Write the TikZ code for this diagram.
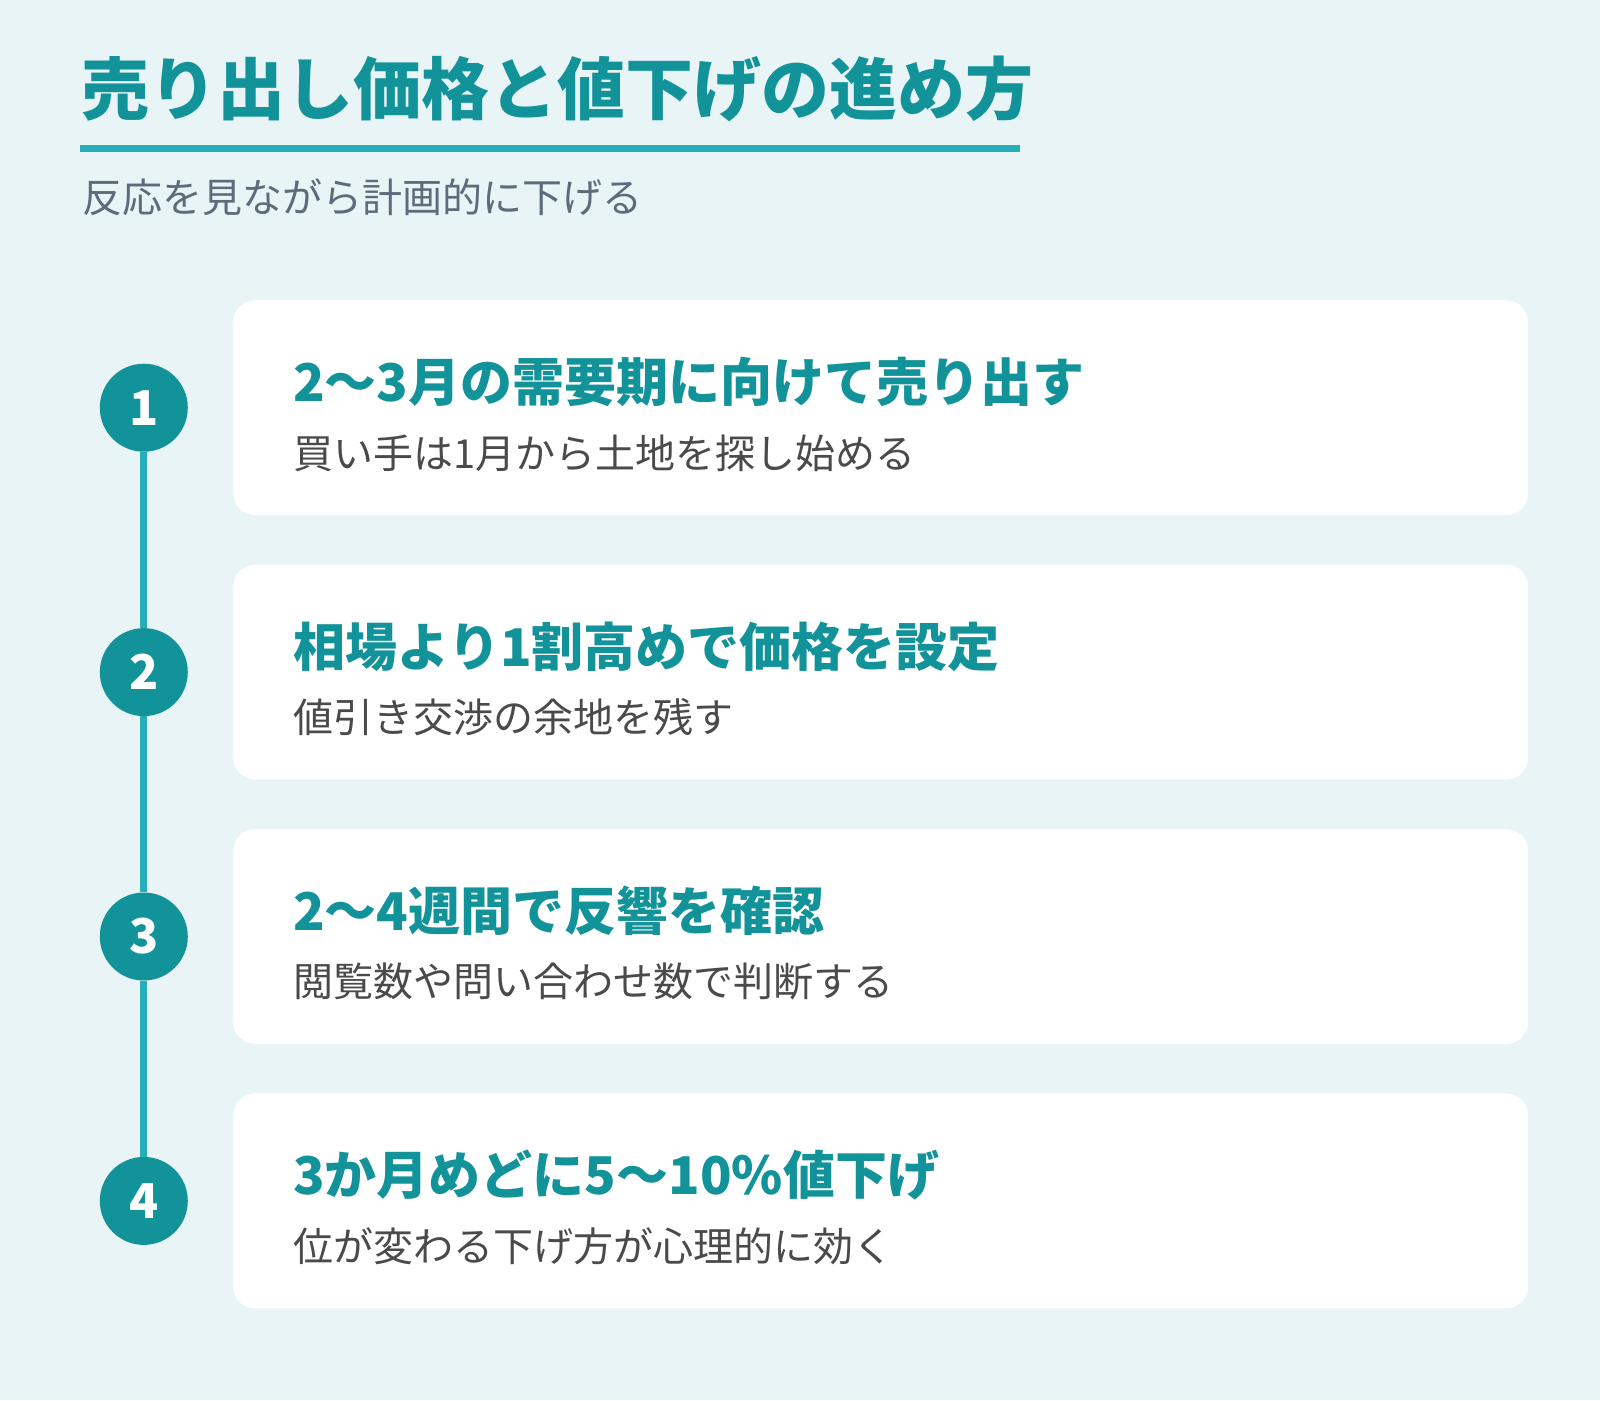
\documentclass[tikz,border=0pt]{standalone}
\usepackage{fontspec}
\setmainfont{Noto Sans CJK JP}
\usetikzlibrary{positioning}

\definecolor{pagebg}{HTML}{E9F4F6}
\definecolor{teal}{HTML}{12939A}
\definecolor{lineteal}{HTML}{27AFB9}
\definecolor{subgray}{HTML}{5D6B7B}
\definecolor{textgray}{HTML}{4A4A4A}

\begin{document}
\begin{tikzpicture}[
  x=1pt, y=-1pt,
  card/.style={rectangle, rounded corners=22pt, fill=white,
               minimum width=1295pt, minimum height=215pt,
               inner sep=0pt},
  num/.style={circle, fill=teal, minimum size=88pt, inner sep=0pt,
              text=white, font=\fontsize{48}{56}\selectfont\bfseries},
  head/.style={anchor=west, inner sep=0pt, text=teal,
               font=\fontsize{52}{62}\selectfont\bfseries},
  sub/.style={anchor=west, inner sep=0pt, text=textgray,
              font=\fontsize{40}{48}\selectfont},
  spine/.style={draw=lineteal, line width=7pt},
  node distance=49pt
]
\fill[pagebg] (0,0) rectangle (1600,1400);
\useasboundingbox (0,0) rectangle (1600,1400);

% title
\node[anchor=west, inner sep=0pt, text=teal,
      font=\fontsize{68}{80}\selectfont\bfseries] (title) at (81,89)
      {売り出し価格と値下げの進め方};
\coordinate (ulA) at (80,148);
\coordinate (ulB) at (1020,148);
\draw[draw=lineteal, line width=7pt] (ulA) -- (ulB);
\node[anchor=west, inner sep=0pt, text=subgray,
      font=\fontsize{40}{48}\selectfont] (subtitle) at (82,197)
      {反応を見ながら計画的に下げる};

% cards
\node[card, anchor=north west] (card1) at (233,300) {};
\node[card, below=of card1] (card2) {};
\node[card, below=of card2] (card3) {};
\node[card, below=of card3] (card4) {};

% step numbers
\node[num, left=45pt of card1] (n1) {1};
\node[num, left=45pt of card2] (n2) {2};
\node[num, left=45pt of card3] (n3) {3};
\node[num, left=45pt of card4] (n4) {4};
\draw[spine] (n1) -- (n2);
\draw[spine] (n2) -- (n3);
\draw[spine] (n3) -- (n4);

% card texts
\node[head] (h1) at ([xshift=60pt, yshift=-82pt]card1.north west) {2〜3月の需要期に向けて売り出す};
\node[sub]  (s1) at ([xshift=60pt, yshift=-153pt]card1.north west) {買い手は1月から土地を探し始める};
\node[head] (h2) at ([xshift=60pt, yshift=-82pt]card2.north west) {相場より1割高めで価格を設定};
\node[sub]  (s2) at ([xshift=60pt, yshift=-153pt]card2.north west) {値引き交渉の余地を残す};
\node[head] (h3) at ([xshift=60pt, yshift=-82pt]card3.north west) {2〜4週間で反響を確認};
\node[sub]  (s3) at ([xshift=60pt, yshift=-153pt]card3.north west) {閲覧数や問い合わせ数で判断する};
\node[head] (h4) at ([xshift=60pt, yshift=-82pt]card4.north west) {3か月めどに5〜10\%値下げ};
\node[sub]  (s4) at ([xshift=60pt, yshift=-153pt]card4.north west) {位が変わる下げ方が心理的に効く};
\end{tikzpicture}
\end{document}
